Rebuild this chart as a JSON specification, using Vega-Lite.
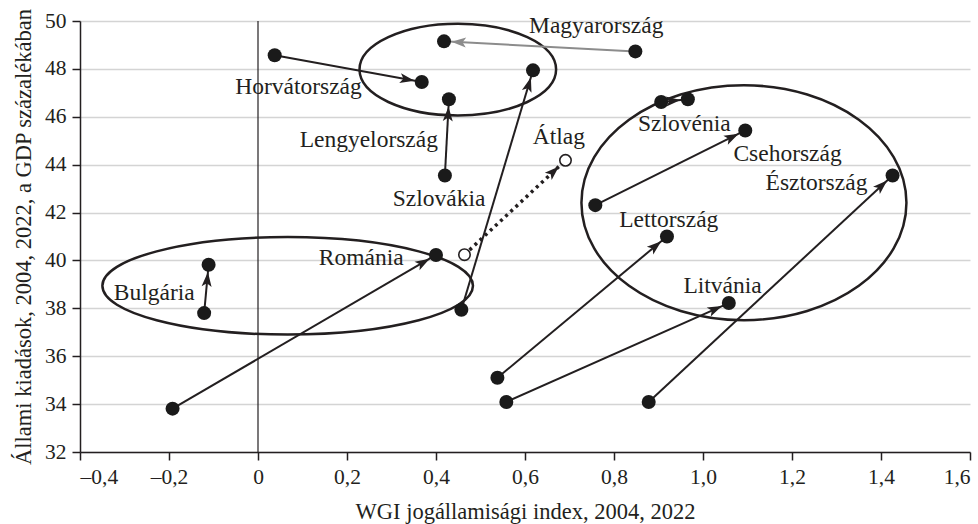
{
  "$schema": "https://vega.github.io/schema/vega-lite/v6.json",
  "width": 890,
  "height": 431,
  "autosize": {"type": "none"},
  "padding": {"left": 80, "top": 21, "right": 8, "bottom": 72},
  "background": "white",
  "config": {
    "view": {"stroke": null},
    "font": "Liberation Serif",
    "axis": {
      "labelFont": "Liberation Serif",
      "titleFont": "Liberation Serif",
      "labelFontSize": 21.5,
      "titleFontSize": 22.5,
      "titleFontWeight": "normal",
      "labelColor": "#231f20",
      "titleColor": "#231f20",
      "domainColor": "#231f20",
      "tickColor": "#231f20",
      "domainWidth": 1.5,
      "tickWidth": 1.5,
      "tickSize": 8
    }
  },
  "datasets": {
    "countries": [
      {"country": "Bulgária", "x04": -0.121, "y04": 37.8, "x22": -0.111, "y22": 39.82, "kind": "normal"},
      {"country": "Románia", "x04": -0.192, "y04": 33.81, "x22": 0.4, "y22": 40.23, "kind": "normal"},
      {"country": "Lengyelország", "x04": 0.457, "y04": 37.94, "x22": 0.618, "y22": 47.94, "kind": "normal"},
      {"country": "Horvátország", "x04": 0.0375, "y04": 48.57, "x22": 0.368, "y22": 47.45, "kind": "normal"},
      {"country": "Szlovákia", "x04": 0.42, "y04": 43.55, "x22": 0.429, "y22": 46.73, "kind": "normal"},
      {"country": "Magyarország", "x04": 0.848, "y04": 48.73, "x22": 0.418, "y22": 49.15, "kind": "hu"},
      {"country": "Szlovénia", "x04": 0.906, "y04": 46.62, "x22": 0.966, "y22": 46.73, "kind": "normal"},
      {"country": "Csehország", "x04": 0.758, "y04": 42.31, "x22": 1.095, "y22": 45.43, "kind": "normal"},
      {"country": "Észtország", "x04": 0.878, "y04": 34.09, "x22": 1.426, "y22": 43.55, "kind": "normal"},
      {"country": "Lettország", "x04": 0.538, "y04": 35.1, "x22": 0.919, "y22": 41.0, "kind": "normal"},
      {"country": "Litvánia", "x04": 0.558, "y04": 34.09, "x22": 1.058, "y22": 38.22, "kind": "normal"}
    ],
    "avg": [
      {"country": "Átlag", "x04": 0.464, "y04": 40.24, "x22": 0.691, "y22": 44.18}
    ],
    "labels": [
      {"text": "Horvátország", "lx": 0.091, "ly": 47.23},
      {"text": "Lengyelország", "lx": 0.249, "ly": 45.02},
      {"text": "Szlovákia", "lx": 0.407, "ly": 42.58},
      {"text": "Románia", "lx": 0.232, "ly": 40.12},
      {"text": "Bulgária", "lx": -0.233, "ly": 38.65},
      {"text": "Magyarország", "lx": 0.76, "ly": 49.78},
      {"text": "Átlag", "lx": 0.676, "ly": 45.15},
      {"text": "Szlovénia", "lx": 0.958, "ly": 45.69},
      {"text": "Csehország", "lx": 1.19, "ly": 44.43},
      {"text": "Észtország", "lx": 1.255, "ly": 43.23},
      {"text": "Lettország", "lx": 0.923, "ly": 41.67},
      {"text": "Litvánia", "lx": 1.044, "ly": 38.92}
    ]
  },
  "layer": [
    {
      "data": {"name": "countries"},
      "mark": {"type": "point", "opacity": 0},
      "encoding": {
        "x": {
          "field": "x04", "type": "quantitative",
          "scale": {"domain": [-0.4, 1.6], "nice": false, "zero": false},
          "axis": {
            "values": [-0.4, -0.2, 0, 0.2, 0.4, 0.6, 0.8, 1.0, 1.2, 1.4, 1.6],
            "labelExpr": "abs(datum.value) < 1e-9 ? '0' : (datum.value < 0 ? '–' : '') + replace(format(abs(datum.value), '.1f'), '.', ',')",
            "grid": false,
            "labelPadding": 6,
            "title": "WGI jogállamisági index, 2004, 2022",
            "titlePadding": 13
          }
        },
        "y": {
          "field": "y04", "type": "quantitative",
          "scale": {"domain": [32, 50], "nice": false, "zero": false},
          "axis": {
            "values": [32, 34, 36, 38, 40, 42, 44, 46, 48, 50],
            "grid": true,
            "gridColor": "#d4d4d4",
            "gridWidth": 1.5,
            "labelPadding": 6,
            "title": "Állami kiadások, 2004, 2022, a GDP százalékában",
            "titlePadding": 9
          }
        }
      }
    },
    {
      "data": {"values": [{"v": 0}]},
      "mark": {"type": "rule", "color": "#231f20", "strokeWidth": 1.2},
      "encoding": {"x": {"field": "v", "type": "quantitative"}}
    },
    {
      "data": {"values": [{"cx": 0.449, "cy": 47.97}]},
      "mark": {"type": "point", "filled": false, "stroke": "#231f20", "strokeWidth": 2.5, "opacity": 1, "size": 38652,
        "shape": "M -1 0 C -1 -0.2574 -0.5523 -0.466 0 -0.466 C 0.5523 -0.466 1 -0.2574 1 0 C 1 0.2574 0.5523 0.466 0 0.466 C -0.5523 0.466 -1 0.2574 -1 0 Z"},
      "encoding": {"x": {"field": "cx", "type": "quantitative"}, "y": {"field": "cy", "type": "quantitative"}}
    },
    {
      "data": {"values": [{"cx": 0.0667, "cy": 38.94}]},
      "mark": {"type": "point", "filled": false, "stroke": "#231f20", "strokeWidth": 2.5, "opacity": 1, "size": 137344,
        "shape": "M -1 0 C -1 -0.1453 -0.5523 -0.263 0 -0.263 C 0.5523 -0.263 1 -0.1453 1 0 C 1 0.1453 0.5523 0.263 0 0.263 C -0.5523 0.263 -1 0.1453 -1 0 Z"},
      "encoding": {"x": {"field": "cx", "type": "quantitative"}, "y": {"field": "cy", "type": "quantitative"}}
    },
    {
      "data": {"values": [{"cx": 1.092, "cy": 42.41}]},
      "mark": {"type": "point", "filled": false, "stroke": "#231f20", "strokeWidth": 2.5, "opacity": 1, "size": 105625,
        "shape": "M -1 0 C -1 -0.3993 -0.5523 -0.723 0 -0.723 C 0.5523 -0.723 1 -0.3993 1 0 C 1 0.3993 0.5523 0.723 0 0.723 C -0.5523 0.723 -1 0.3993 -1 0 Z"},
      "encoding": {"x": {"field": "cx", "type": "quantitative"}, "y": {"field": "cy", "type": "quantitative"}}
    },
    {
      "data": {"name": "countries"},
      "mark": {"type": "rule", "strokeWidth": 2},
      "encoding": {
        "x": {"field": "x04", "type": "quantitative"},
        "y": {"field": "y04", "type": "quantitative"},
        "x2": {"field": "x22"},
        "y2": {"field": "y22"},
        "color": {"field": "kind", "type": "nominal", "scale": {"domain": ["normal", "hu"], "range": ["#231f20", "#8c8c8c"]}, "legend": null}
      }
    },
    {
      "data": {"name": "avg"},
      "mark": {"type": "rule", "strokeWidth": 3.5, "strokeDash": [3, 4], "color": "#231f20"},
      "encoding": {
        "x": {"field": "x04", "type": "quantitative"},
        "y": {"field": "y04", "type": "quantitative"},
        "x2": {"field": "x22"},
        "y2": {"field": "y22"}
      }
    },
    {
      "data": {"name": "countries"},
      "transform": [{"calculate": "atan2((datum.x22 - datum.x04) * 445, (datum.y22 - datum.y04) * 23.94) * 180 / PI", "as": "ang"}],
      "mark": {"type": "point", "filled": true, "opacity": 1, "size": 1600, "strokeWidth": 0,
        "shape": "M 0 0.37 L 0.25 1.1 L 0 0.93 L -0.25 1.1 Z"},
      "encoding": {
        "x": {"field": "x22", "type": "quantitative"},
        "y": {"field": "y22", "type": "quantitative"},
        "angle": {"field": "ang", "type": "quantitative", "scale": null},
        "color": {"field": "kind", "type": "nominal", "scale": {"domain": ["normal", "hu"], "range": ["#231f20", "#8c8c8c"]}, "legend": null}
      }
    },
    {
      "data": {"name": "avg"},
      "transform": [{"calculate": "atan2((datum.x22 - datum.x04) * 445, (datum.y22 - datum.y04) * 23.94) * 180 / PI", "as": "ang"}],
      "mark": {"type": "point", "filled": true, "opacity": 1, "size": 1600, "strokeWidth": 0, "color": "#231f20",
        "shape": "M 0 0.45 L 0.25 1.18 L 0 1.01 L -0.25 1.18 Z"},
      "encoding": {
        "x": {"field": "x22", "type": "quantitative"},
        "y": {"field": "y22", "type": "quantitative"},
        "angle": {"field": "ang", "type": "quantitative", "scale": null}
      }
    },
    {
      "data": {"name": "countries"},
      "mark": {"type": "circle", "size": 196, "color": "#1a1a1a", "opacity": 1},
      "encoding": {"x": {"field": "x04", "type": "quantitative"}, "y": {"field": "y04", "type": "quantitative"}}
    },
    {
      "data": {"name": "countries"},
      "mark": {"type": "circle", "size": 196, "color": "#1a1a1a", "opacity": 1},
      "encoding": {"x": {"field": "x22", "type": "quantitative"}, "y": {"field": "y22", "type": "quantitative"}}
    },
    {
      "data": {"name": "avg"},
      "mark": {"type": "point", "size": 130, "filled": false, "fill": "white", "fillOpacity": 1, "stroke": "#231f20", "strokeWidth": 1.6, "opacity": 1},
      "encoding": {"x": {"field": "x04", "type": "quantitative"}, "y": {"field": "y04", "type": "quantitative"}}
    },
    {
      "data": {"name": "avg"},
      "mark": {"type": "point", "size": 130, "filled": false, "fill": "white", "fillOpacity": 1, "stroke": "#231f20", "strokeWidth": 1.6, "opacity": 1},
      "encoding": {"x": {"field": "x22", "type": "quantitative"}, "y": {"field": "y22", "type": "quantitative"}}
    },
    {
      "data": {"name": "labels"},
      "mark": {"type": "text", "font": "Liberation Serif", "fontSize": 23.5, "color": "#231f20", "align": "center", "baseline": "middle"},
      "encoding": {
        "x": {"field": "lx", "type": "quantitative"},
        "y": {"field": "ly", "type": "quantitative"},
        "text": {"field": "text"}
      }
    }
  ]
}
